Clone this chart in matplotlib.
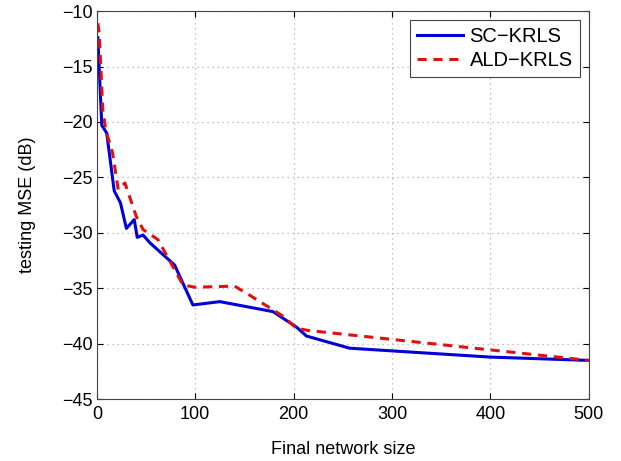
import matplotlib
matplotlib.use("Agg")
import matplotlib.pyplot as plt

sc_x = [1, 5, 10, 17.6, 24, 30, 38, 41, 47, 54, 79, 97.6, 125, 179, 203, 213, 257, 400, 500]
sc_y = [-12.4, -20.3, -21.0, -26.2, -27.3, -29.6, -28.8, -30.4, -30.2, -30.9, -32.9, -36.5, -36.2, -37.1, -38.5, -39.3, -40.4, -41.2, -41.5]

ald_x = [1, 2.4, 6, 9, 16, 21.7, 28.5, 35, 40, 47, 62, 87.6, 99.6, 140, 155, 189, 203, 215, 500]
ald_y = [-11.1, -12.0, -18.9, -20.7, -22.8, -26.1, -25.5, -27.2, -28.5, -29.7, -30.6, -34.7, -34.9, -34.8, -35.6, -37.5, -38.6, -38.8, -41.5]

xticks = [0, 100, 200, 300, 400, 500]
yticks = [-45, -40, -35, -30, -25, -20, -15, -10]

plt.rcParams['font.family'] = ['Liberation Sans', 'DejaVu Sans']
fig = plt.figure(figsize=(6.21, 4.61), dpi=100)
ax = fig.add_axes([0.156, 0.134, 0.792, 0.842])
ax.plot(sc_x, sc_y, color='#0000d8', lw=2.2, label='SC\u2212KRLS')
ax.plot(ald_x, ald_y, color='#e01010', lw=2.2, ls=(0, (3, 2.2)), label='ALD\u2212KRLS')
ax.set_xlim(0, 500)
ax.set_ylim(-45, -10)
ax.set_xticks(xticks)
ax.set_yticks(yticks)
ax.tick_params(direction='in', labelsize=13, length=4, top=True, right=True, pad=5)
ax.tick_params(axis='y', pad=3)
ax.grid(True, ls=(0, (1, 3)), color='#b0b0b0', lw=0.9)
ax.set_xlabel('Final network size', fontsize=13, labelpad=13)
ax.set_ylabel('testing MSE (dB)', fontsize=13, labelpad=19)
for s in ax.spines.values():
    s.set_linewidth(0.8)
    s.set_color('#444444')
leg = ax.legend(loc='upper right', fontsize=14.5, fancybox=False, edgecolor='#444444',
                framealpha=1, handlelength=2.3, borderaxespad=0.45, handletextpad=0.3,
                borderpad=0.35, labelspacing=0.25)
leg.get_frame().set_linewidth(0.8)
fig.savefig('out.png', dpi=100)
